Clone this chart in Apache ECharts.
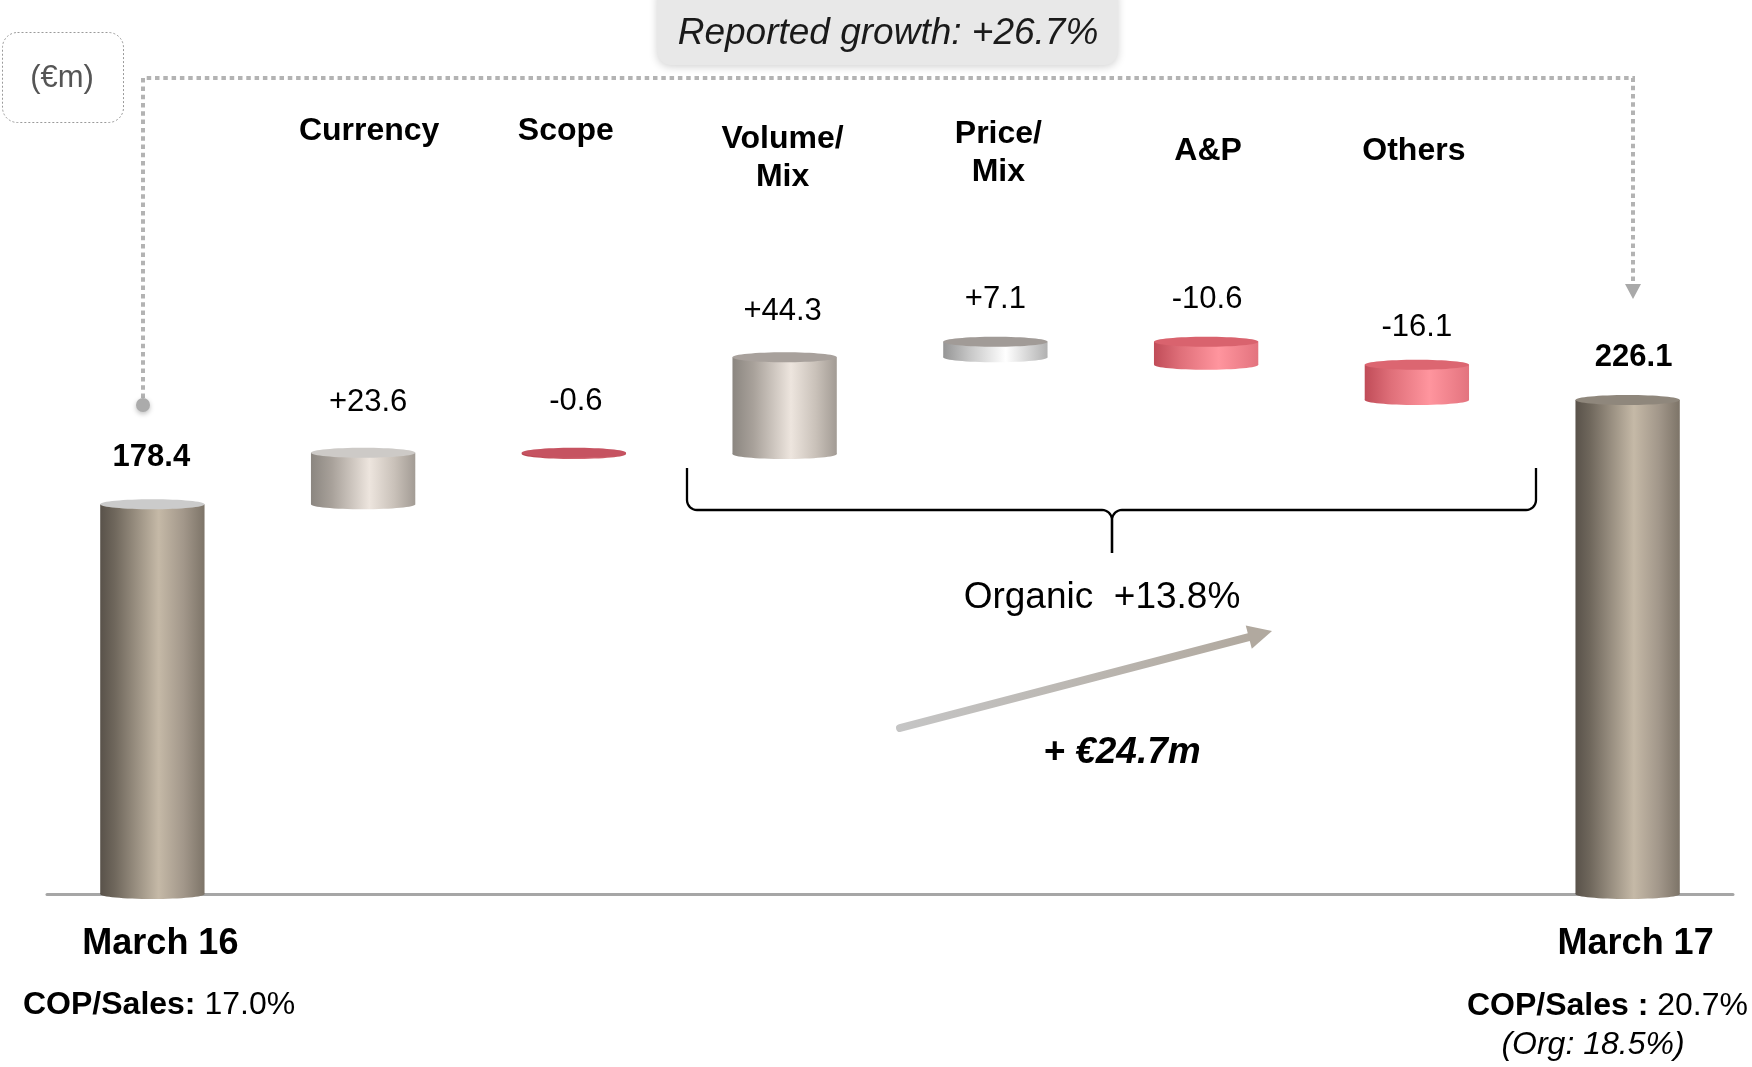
<!DOCTYPE html>
<html>
<head>
<meta charset="utf-8">
<script src="https://cdn.jsdelivr.net/npm/echarts@6/dist/echarts.min.js"></script>
<style>
  html, body { margin: 0; padding: 0; background: #ffffff; }
  #chart { width: 1752px; height: 1067px; }
</style>
</head>
<body>
<div id="chart"></div>
<script>
// ---- Bridge data (€m) ----
const categories = ['March 16', 'Currency', 'Scope', 'Volume/\nMix', 'Price/\nMix', 'A&P', 'Others', 'March 17'];
const openingValue = 178.4;
const bridgeDeltas = [23.6, -0.6, 44.3, 7.1, -10.6, -16.1];
const closingValue = 226.1;

// ---- Headline figures ----
const reportedGrowth = '+26.7%';
const organicGrowth = '+13.8%';
const organicAmount = '24.7';
const copSalesOpening = '17.0%';
const copSalesClosing = '20.7%';
const copSalesOrganic = '18.5%';

// ---- Build floating bars: [index, low, high, amount] ----
const bars = [];
bars.push([0, 0, openingValue, openingValue]);
let running = openingValue;
bridgeDeltas.forEach(function (d, k) {
  const next = Math.round((running + d) * 10) / 10;
  bars.push([k + 1, Math.min(running, next), Math.max(running, next), d]);
  running = next;
});
bars.push([categories.length - 1, 0, closingValue, closingValue]);

// ---- Appearance ----
const FONT = "'Liberation Sans', Arial, Helvetica, sans-serif";
const BODY = {
  total:  [[0, '#59524a'], [0.14, '#6f675c'], [0.56, '#c5b9a7'], [0.8, '#a2978a'], [1, '#7d7468']],
  warm:   [[0, '#8b8680'], [0.2, '#a8a19a'], [0.56, '#ede5de'], [0.8, '#c9c1b9'], [1, '#a29b94']],
  silver: [[0, '#959595'], [0.25, '#c6c6c6'], [0.6, '#ffffff'], [1, '#b1b1b1']],
  red:    [[0, '#b8434f'], [0.6, '#d56a75'], [1, '#c3505c']],
  pink:   [[0, '#c04c58'], [0.25, '#df6f79'], [0.62, '#ff959e'], [1, '#e3737e']]
};
const barLook = [
  { body: 'total',  top: '#cbcbcb' },
  { body: 'warm',   top: '#cdcac7' },
  { body: 'red',    top: '#c65361' },
  { body: 'warm',   top: '#a8a19c' },
  { body: 'silver', top: '#a19b97' },
  { body: 'pink',   top: '#d9636e' },
  { body: 'pink',   top: '#dc6671' },
  { body: 'total',  top: '#8f877c' }
];
// header text placement above each bridge step (px)
const headerY  = [null, 131, 131, 158, 153, 151, 151, null];
const headerDX = [0, 6, -8, -2, 3, 2, -3, 0];
// value label placement: lift above the bar top and horizontal nudge (px)
const labelLift = [47, 50, 51, 46, 42, 42, 37, 43];
const labelDX   = [-1, 5, 2, -2, 0, 1, 0, 6];

function gradient(stops) {
  return {
    type: 'linear', x: 0, y: 0, x2: 1, y2: 0,
    colorStops: stops.map(function (s) { return { offset: s[0], color: s[1] }; })
  };
}

function formatAmount(idx, v) {
  if (idx === 0 || idx === categories.length - 1) return v.toFixed(1);
  return (v > 0 ? '+' : '') + v.toFixed(1);
}

function renderCylinder(params, api) {
  const idx = api.value(0);
  const lo = api.value(1);
  const hi = api.value(2);
  const amount = api.value(3);
  const pTop = api.coord([idx, hi]);
  const pBot = api.coord([idx, lo]);
  const rx = api.size([1, 0])[0] * 0.495 / 2;
  const ry = 5;
  const cx = pTop[0];
  const look = barLook[idx];
  const fill = gradient(BODY[look.body]);
  const isTotal = idx === 0 || idx === categories.length - 1;
  const children = [
    { type: 'ellipse', shape: { cx: cx, cy: pBot[1], rx: rx, ry: ry }, style: { fill: fill } },
    { type: 'rect', shape: { x: cx - rx, y: pTop[1], width: rx * 2, height: Math.max(0, pBot[1] - pTop[1]) }, style: { fill: fill } },
    { type: 'ellipse', shape: { cx: cx, cy: pTop[1], rx: rx, ry: ry }, style: { fill: look.top } },
    {
      type: 'text', x: cx + labelDX[idx], y: pTop[1] - labelLift[idx],
      style: {
        text: formatAmount(idx, amount), fill: '#000000', align: 'center', verticalAlign: 'middle',
        font: (isTotal ? 'bold ' : '') + '31px ' + FONT
      }
    }
  ];
  if (headerY[idx] !== null) {
    children.push({
      type: 'text', x: cx + headerDX[idx], y: headerY[idx],
      style: {
        text: categories[idx], fill: '#000000', align: 'center', verticalAlign: 'middle',
        font: 'bold 32px ' + FONT, lineHeight: 38
      }
    });
  }
  return { type: 'group', children: children };
}

// ---- Bracket geometry helpers ----
function arcPoints(cx, cy, r, a0, a1, n) {
  const pts = [];
  for (let i = 0; i <= n; i++) {
    const a = a0 + (a1 - a0) * i / n;
    pts.push([cx + r * Math.cos(a), cy + r * Math.sin(a)]);
  }
  return pts;
}
function bracketPoints(x0, x1, yTop, yBar, xMid, yTip) {
  const r = 10;
  const left = [[x0, yTop]].concat(
    arcPoints(x0 + r, yBar - r, r, Math.PI, Math.PI / 2, 8),
    arcPoints(xMid - r - 2, yBar + r, r, -Math.PI / 2, 0, 8).map(function (p) { return [p[0] + 2, p[1]]; }),
    [[xMid, yTip]]
  );
  const right = [[x1, yTop]].concat(
    arcPoints(x1 - r, yBar - r, r, 0, Math.PI / 2, 8),
    arcPoints(xMid + r + 2, yBar + r, r, -Math.PI / 2, -Math.PI, 8).map(function (p) { return [p[0] - 2, p[1]]; }),
    [[xMid, yTip]]
  );
  return [left, right];
}

const chart = echarts.init(document.getElementById('chart'), null, { renderer: 'canvas' });

const bracket = bracketPoints(687, 1536, 468, 510, 1112, 553);

// Arrow geometry
const arrowFrom = [900, 728];
const arrowTip = [1272, 631];
const adx = arrowTip[0] - arrowFrom[0], ady = arrowTip[1] - arrowFrom[1];
const alen = Math.sqrt(adx * adx + ady * ady);
const ux = adx / alen, uy = ady / alen;
const headLen = 24, headHalf = 12;
const headBase = [arrowTip[0] - ux * headLen, arrowTip[1] - uy * headLen];

const noteRich = {
  b: { fontFamily: FONT, fontSize: 32, fontWeight: 'bold', fill: '#000000' },
  n: { fontFamily: FONT, fontSize: 32, fill: '#000000' }
};

const option = {
  backgroundColor: '#ffffff',
  animation: false,
  grid: { left: 47, right: 19, top: 238.5, bottom: 173, containLabel: false },
  xAxis: {
    type: 'category',
    data: categories,
    axisLine: { show: true, lineStyle: { color: '#a6a6a6', width: 3 } },
    axisTick: { show: false },
    splitLine: { show: false },
    axisLabel: {
      interval: 0,
      margin: 32,
      color: '#000000',
      fontFamily: FONT,
      fontSize: 36,
      fontWeight: 'bold',
      lineHeight: 36,
      padding: [0, 0, 0, 16],
      formatter: function (v, i) {
        return (i === 0 || i === categories.length - 1) ? v : '';
      }
    }
  },
  yAxis: {
    type: 'value', min: 0, max: 300,
    show: false,
    splitLine: { show: false }
  },
  series: [{
    type: 'custom',
    renderItem: renderCylinder,
    data: bars,
    encode: { x: 0, y: [1, 2] },
    z: 3
  }],
  graphic: [
    // unit box
    {
      type: 'rect', left: 2, top: 32,
      shape: { width: 121, height: 90, r: 15 },
      style: { fill: '#ffffff', stroke: '#9a9a9a', lineWidth: 1, lineDash: [2, 2] }
    },
    {
      type: 'text', x: 62, y: 78,
      style: { text: '(€m)', fill: '#555555', font: '31px ' + FONT, align: 'center', verticalAlign: 'middle' }
    },
    // reported growth banner
    {
      type: 'rect', x: 657, y: -16,
      shape: { width: 461, height: 81, r: 14 },
      style: { fill: '#e8e8e8', shadowBlur: 8, shadowColor: 'rgba(0,0,0,0.18)', shadowOffsetY: 2 }
    },
    {
      type: 'text', x: 888, y: 34,
      style: {
        text: 'Reported growth: ' + reportedGrowth, fill: '#1a1a1a',
        font: 'italic 37px ' + FONT, align: 'center', verticalAlign: 'middle'
      }
    },
    // dotted connector between opening and closing bars
    {
      type: 'polyline',
      shape: { points: [[143, 398], [143, 78], [1633, 78], [1633, 286]] },
      style: { stroke: '#b3b3b3', lineWidth: 4, lineDash: [4.5, 3.8], fill: null }
    },
    {
      type: 'polygon',
      shape: { points: [[1625, 284], [1641, 284], [1633, 299]] },
      style: { fill: '#a9a9a9' }
    },
    {
      type: 'circle',
      shape: { cx: 143, cy: 405, r: 7 },
      style: { fill: '#ababab', shadowBlur: 5, shadowColor: 'rgba(0,0,0,0.25)', shadowOffsetY: 2 }
    },
    // organic bracket
    {
      type: 'polyline', shape: { points: bracket[0] },
      style: { stroke: '#000000', lineWidth: 2.3, fill: null }
    },
    {
      type: 'polyline', shape: { points: bracket[1] },
      style: { stroke: '#000000', lineWidth: 2.3, fill: null }
    },
    {
      type: 'text', x: 1102, y: 598,
      style: {
        text: 'Organic  ' + organicGrowth, fill: '#000000',
        font: '37px ' + FONT, align: 'center', verticalAlign: 'middle'
      }
    },
    // growth arrow
    {
      type: 'line',
      shape: { x1: arrowFrom[0], y1: arrowFrom[1], x2: headBase[0] + ux * 2, y2: headBase[1] + uy * 2 },
      style: {
        lineWidth: 8, lineCap: 'round',
        stroke: { type: 'linear', x: 0, y: 0, x2: 1, y2: 0,
          colorStops: [{ offset: 0, color: '#c5c5c5' }, { offset: 1, color: '#b1a99f' }] }
      }
    },
    {
      type: 'polygon',
      shape: { points: [
        arrowTip,
        [headBase[0] + (-uy) * headHalf, headBase[1] + ux * headHalf],
        [headBase[0] - (-uy) * headHalf, headBase[1] - ux * headHalf]
      ] },
      style: { fill: '#b1a99f' }
    },
    {
      type: 'text', x: 1122, y: 753,
      style: {
        text: '+ €' + organicAmount + 'm', fill: '#000000',
        font: 'italic bold 37px ' + FONT, align: 'center', verticalAlign: 'middle'
      }
    },
    // margin notes
    {
      type: 'text', x: 23, y: 1005,
      style: {
        text: '{b|COP/Sales:}{n| ' + copSalesOpening + '}',
        align: 'left', verticalAlign: 'middle', rich: noteRich
      }
    },
    {
      type: 'text', x: 1748, y: 1006,
      style: {
        text: '{b|COP/Sales :}{n| ' + copSalesClosing + '}',
        align: 'right', verticalAlign: 'middle', rich: noteRich
      }
    },
    {
      type: 'text', x: 1593, y: 1045,
      style: {
        text: '(Org: ' + copSalesOrganic + ')', fill: '#000000',
        font: 'italic 32px ' + FONT, align: 'center', verticalAlign: 'middle'
      }
    }
  ]
};

chart.setOption(option);
</script>
</body>
</html>
